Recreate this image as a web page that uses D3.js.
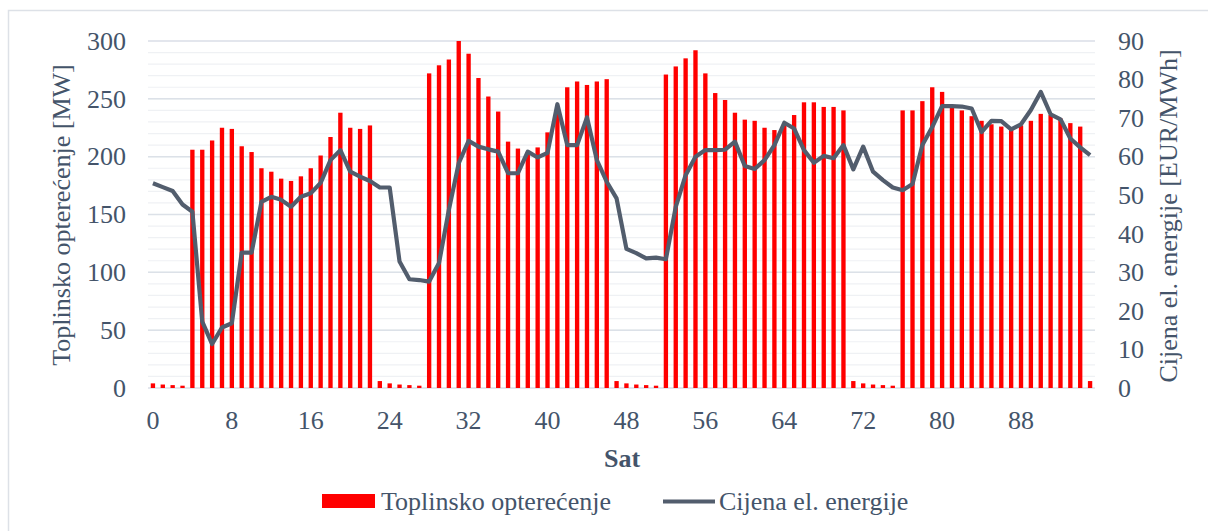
<!DOCTYPE html>
<html>
<head>
<meta charset="utf-8">
<script src="https://cdn.jsdelivr.net/npm/d3@7"></script>
<style>
  body { margin: 0; background: #fff; }
  text { font-family: "Liberation Serif", "Times New Roman", serif; fill: #44546a; }
</style>
</head>
<body>
<div id="chart"></div>
<script>
(function () {

  // hours 0..95
  var hours = d3.range(96)

  // Toplinsko opterecenje [MW]
  var load = [
    4, 3, 2.5, 2, 206, 206, 214, 225, 224, 209, 204, 190, 187, 181, 179, 183, 190, 201, 217, 238, 225, 224, 227, 6,
    4, 3, 2.5, 2, 272, 279, 284, 300, 289, 268, 252, 239, 213, 207, 204, 208, 221, 238, 260, 265, 262, 265, 267, 6,
    4, 3, 2.5, 2, 271, 278, 285, 292, 272, 255, 249, 238, 232, 231, 225, 223, 229, 236, 247, 247, 243, 243, 240, 6,
    4, 3, 2.5, 2, 240, 240, 248, 260, 256, 244, 240, 235, 231, 228, 226, 224, 227, 231, 237, 236, 233, 229, 226, 6
  ]

  // Cijena el. energije [EUR/MWh]
  var price = [
    53.1, 52.1, 51.1, 47.6, 45.7, 17.2, 11.4, 15.7, 16.8, 35.1, 35.1, 48.3, 49.6, 48.8, 47, 49.6, 50.5, 53.2, 59.1, 61.7, 56.1, 54.8, 53.7, 52,
    52, 32.8, 28.2, 28, 27.6, 32.4, 46.2, 58.3, 64.1, 62.6, 61.9, 61.3, 55.7, 55.7, 61.3, 59.8, 61, 73.6, 63, 63, 70.2, 59.1, 53.5, 49.2,
    36.1, 35, 33.6, 33.8, 33.4, 47, 55.2, 60, 61.7, 61.7, 61.8, 63.9, 57.6, 56.8, 59.1, 63, 68.8, 67.3, 61.7, 58.4, 60.2, 59.6, 63, 56.7,
    62.6, 56.1, 53.9, 52, 51.3, 52.9, 63, 67.7, 73.1, 73.1, 73, 72.5, 66.4, 69.3, 69.2, 67.1, 68.4, 72.1, 76.8, 71, 69.7, 64.7, 62.4, 60.4
  ]

  var xTicks = [0, 8, 16, 24, 32, 40, 48, 56, 64, 72, 80, 88]
  var yTicks = [0, 50, 100, 150, 200, 250, 300]
  var y2Ticks = [0, 10, 20, 30, 40, 50, 60, 70, 80, 90]

  var width = 1208,
      height = 531,
      plot = { left: 148, right: 1095, top: 41, bottom: 388 }

  var svg = d3.select("#chart")
      .append("svg")
      .attr("width", width)
      .attr("height", height)

  // chart area border
  svg.append("rect")
     .attr("x", 8.5)
     .attr("y", 10.5)
     .attr("width", 1300)
     .attr("height", 600)
     .attr("fill", "#fff")
     .attr("stroke", "#dde1e7")
     .attr("stroke-width", 1.5)

  var xPositionScale = d3.scaleBand()
    .domain(hours)
    .range([plot.left, plot.right])
    .paddingInner(0.56)
    .paddingOuter(0.28)

  var yPositionScale = d3.scaleLinear()
    .domain([0, 300])
    .range([plot.bottom, plot.top])

  var y2PositionScale = d3.scaleLinear()
    .domain([0, 90])
    .range([plot.bottom, plot.top])

  // minor gridlines every 10, major every 50
  svg.selectAll(".minor")
     .data(d3.range(0, 301, 10))
     .enter().append("line")
     .attr("class", "minor")
     .attr("x1", plot.left)
     .attr("x2", plot.right)
     .attr("y1", function(d) { return yPositionScale(d) })
     .attr("y2", function(d) { return yPositionScale(d) })
     .attr("stroke", "#eff1f4")
     .attr("stroke-width", 1.2)

  svg.selectAll(".major")
     .data(yTicks)
     .enter().append("line")
     .attr("class", "major")
     .attr("x1", plot.left)
     .attr("x2", plot.right)
     .attr("y1", function(d) { return yPositionScale(d) })
     .attr("y2", function(d) { return yPositionScale(d) })
     .attr("stroke", "#dce1e8")
     .attr("stroke-width", 1.5)

  svg.selectAll(".bar")
     .data(hours)
     .enter().append("rect")
     .attr("class", "bar")
     .attr("x", function(d) { return xPositionScale(d) })
     .attr("y", function(d) { return yPositionScale(load[d]) })
     .attr("width", xPositionScale.bandwidth())
     .attr("height", function(d) { return yPositionScale(0) - yPositionScale(load[d]) })
     .attr("fill", "#ff0000")

  var line = d3.line()
    .x(function(d) { return xPositionScale(d) + xPositionScale.bandwidth() / 2 })
    .y(function(d) { return y2PositionScale(price[d]) })

  svg.append("path")
     .datum(hours)
     .attr("d", line)
     .attr("fill", "none")
     .attr("stroke", "#525d6d")
     .attr("stroke-width", 4.2)
     .attr("stroke-linejoin", "round")

  var xAxis = d3.axisBottom(xPositionScale)
     .tickValues(xTicks)
     .tickSize(0)
     .tickPadding(23)

  svg.append("g")
     .attr("class", "axis x-axis")
     .attr("transform", "translate(0," + plot.bottom + ")")
     .call(xAxis)
     .select(".domain").remove()

  var yAxis = d3.axisLeft(yPositionScale)
     .tickValues(yTicks)
     .tickSize(0)
     .tickPadding(22)

  svg.append("g")
     .attr("class", "axis y-axis")
     .attr("transform", "translate(" + plot.left + ",0)")
     .call(yAxis)
     .select(".domain").remove()

  var y2Axis = d3.axisRight(y2PositionScale)
     .tickValues(y2Ticks)
     .tickSize(0)
     .tickPadding(23)

  svg.append("g")
     .attr("class", "axis y2-axis")
     .attr("transform", "translate(" + plot.right + ",0)")
     .call(y2Axis)
     .select(".domain").remove()

  svg.selectAll(".axis text")
     .attr("font-size", "26px")
     .attr("font-family", "Liberation Serif")
     .attr("fill", "#44546a")

  // axis titles
  svg.append("text")
     .text("Toplinsko opterećenje [MW]")
     .attr("transform", "translate(70,215) rotate(-90)")
     .attr("text-anchor", "middle")
     .attr("font-size", "26px")

  svg.append("text")
     .text("Cijena el. energije [EUR/MWh]")
     .attr("transform", "translate(1177,216) rotate(-90)")
     .attr("text-anchor", "middle")
     .attr("font-size", "26px")

  svg.append("text")
     .text("Sat")
     .attr("x", 622)
     .attr("y", 467)
     .attr("text-anchor", "middle")
     .attr("font-size", "26px")
     .attr("font-weight", "bold")

  // legend
  svg.append("rect")
     .attr("x", 322)
     .attr("y", 494)
     .attr("width", 53)
     .attr("height", 14)
     .attr("fill", "#ff0000")

  svg.append("text")
     .text("Toplinsko opterećenje")
     .attr("x", 381)
     .attr("y", 510)
     .attr("font-size", "26px")

  svg.append("line")
     .attr("x1", 663)
     .attr("x2", 715)
     .attr("y1", 501.5)
     .attr("y2", 501.5)
     .attr("stroke", "#525d6d")
     .attr("stroke-width", 4.2)

  svg.append("text")
     .text("Cijena el. energije")
     .attr("x", 719)
     .attr("y", 510)
     .attr("font-size", "26px")

})()
</script>
</body>
</html>
